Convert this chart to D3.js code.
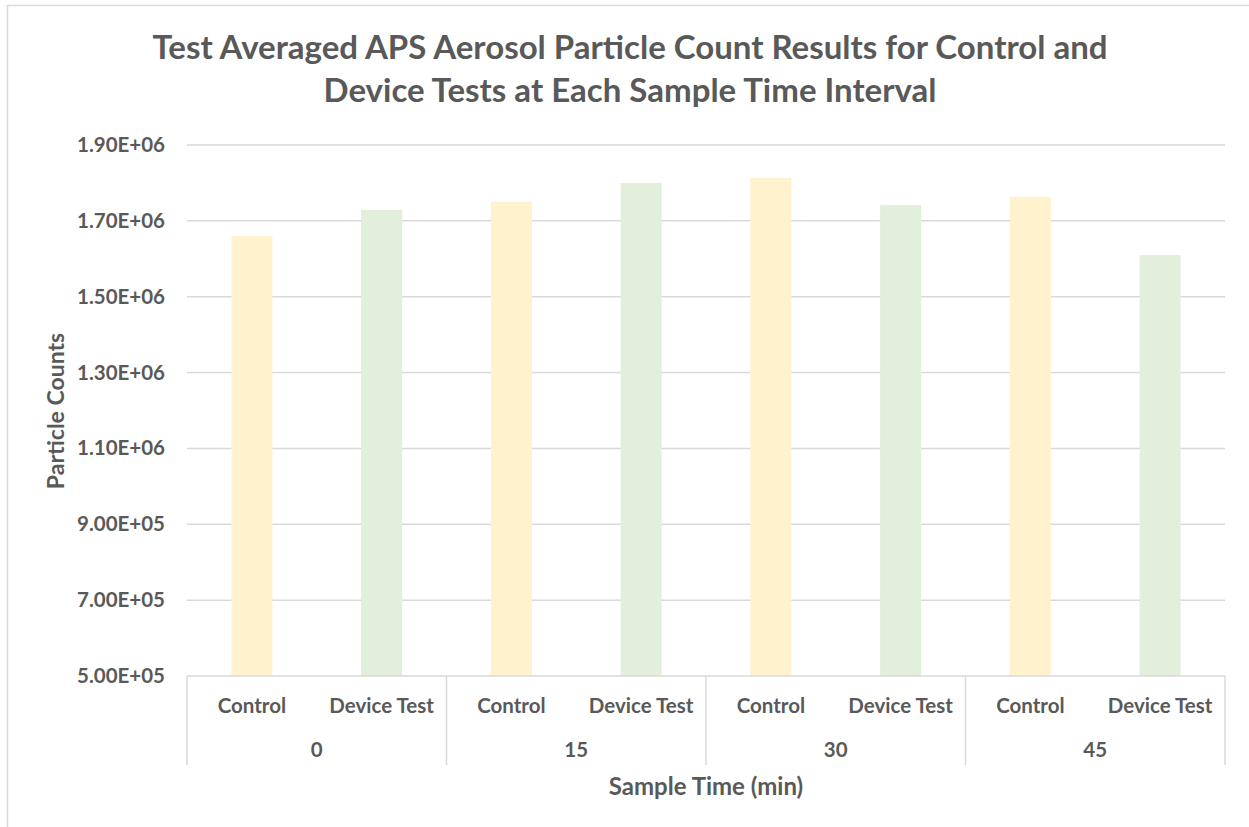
<!DOCTYPE html>
<html lang="en">
	<head>
		<meta charset="utf-8">
		<title>Test Averaged APS Aerosol Particle Count Results</title>
		<script src="https://d3js.org/d3.v7.min.js"></script>
		<style type="text/css">
			body {
				margin: 0;
				background: #fff;
			}
			text {
				font-family: Lato, "Open Sans", sans-serif;
				font-weight: bold;
				fill: #595959;
			}
		</style>
	</head>
	<body>
		<script type="text/javascript">
			//Data
			var times = ["0", "15", "30", "45"];
			var series = ["Control", "Device Test"];
			var controlValues = [1660000, 1750000, 1813000, 1763000];
			var deviceValues = [1729000, 1800000, 1742000, 1610000];
			var yTicks = [500000, 700000, 900000, 1100000, 1300000, 1500000, 1700000, 1900000];
			var seriesColors = ["#fff2cc", "#e2efda"];

			//Width and height
			var w = 1249;
			var h = 827;
			var plotLeft = 187, plotRight = 1225, plotTop = 145, plotBottom = 676;

			var svg = d3.select("body")
				.append("svg")
				.attr("width", w)
				.attr("height", h);

			//Chart border (runs off the right and bottom of the picture)
			svg.append("rect")
				.attr("x", 7.5)
				.attr("y", 5.5)
				.attr("width", 1300)
				.attr("height", 900)
				.attr("fill", "none")
				.attr("stroke", "#d9d9d9")
				.attr("stroke-width", 1.5);

			//Scales
			var x0 = d3.scaleBand()
				.domain(times)
				.range([plotLeft, plotRight]);

			var x1 = d3.scaleBand()
				.domain(series)
				.range([0, x0.bandwidth()])
				.paddingInner(0.684)
				.paddingOuter(0.342);

			var y = d3.scaleLinear()
				.domain([500000, 1900000])
				.range([plotBottom, plotTop]);

			//Format like 1.90E+06
			function sci(d) {
				var s = d3.format(".2e")(d).split("e");
				var exp = +s[1];
				var sign = exp < 0 ? "-" : "+";
				return s[0] + "E" + sign + String(Math.abs(exp)).padStart(2, "0");
			}

			//Gridlines
			svg.append("g")
				.selectAll("line")
				.data(yTicks.slice(1))
				.enter()
				.append("line")
				.attr("x1", plotLeft)
				.attr("x2", plotRight)
				.attr("y1", function(d) { return y(d); })
				.attr("y2", function(d) { return y(d); })
				.attr("stroke", "#d9d9d9")
				.attr("stroke-width", 1.5);

			//Y axis labels
			var yAxis = svg.append("g")
				.attr("transform", "translate(" + plotLeft + ",0)")
				.call(d3.axisLeft(y).tickValues(yTicks).tickFormat(sci).tickSize(0).tickPadding(22));
			yAxis.select(".domain").remove();
			yAxis.selectAll("text")
				.attr("fill", "#595959")
				.style("font-family", "Lato, sans-serif")
				.style("font-size", "20.5px");

			//Bars
			var rows = times.map(function(t, i) {
				return { time: t, values: [controlValues[i], deviceValues[i]] };
			});

			svg.append("g")
				.selectAll("g")
				.data(rows)
				.enter()
				.append("g")
				.attr("transform", function(d) { return "translate(" + x0(d.time) + ",0)"; })
				.selectAll("rect")
				.data(function(d) { return d.values.map(function(v, j) { return { s: series[j], v: v, j: j }; }); })
				.enter()
				.append("rect")
				.attr("x", function(d) { return x1(d.s); })
				.attr("width", x1.bandwidth())
				.attr("y", function(d) { return y(d.v); })
				.attr("height", function(d) { return y(500000) - y(d.v); })
				.attr("fill", function(d) { return seriesColors[d.j]; });

			//X axis line and group separators
			svg.append("line")
				.attr("x1", plotLeft)
				.attr("x2", plotRight)
				.attr("y1", plotBottom)
				.attr("y2", plotBottom)
				.attr("stroke", "#d9d9d9")
				.attr("stroke-width", 1.5);

			svg.append("g")
				.selectAll("line")
				.data(times.map(function(t) { return x0(t); }).concat([plotRight]))
				.enter()
				.append("line")
				.attr("x1", function(d) { return d; })
				.attr("x2", function(d) { return d; })
				.attr("y1", plotBottom)
				.attr("y2", 765)
				.attr("stroke", "#d9d9d9")
				.attr("stroke-width", 1.5);

			//Series labels under each bar
			times.forEach(function(t) {
				series.forEach(function(s) {
					svg.append("text")
						.attr("x", x0(t) + x1(s) + x1.bandwidth() / 2)
						.attr("y", 713)
						.attr("text-anchor", "middle")
						.style("font-size", "20.5px")
						.text(s);
				});
			});

			//Group labels
			svg.append("g")
				.selectAll("text")
				.data(times)
				.enter()
				.append("text")
				.attr("x", function(d) { return x0(d) + x0.bandwidth() / 2; })
				.attr("y", 757)
				.attr("text-anchor", "middle")
				.style("font-size", "20.5px")
				.text(function(d) { return d; });

			//Axis titles
			svg.append("text")
				.attr("x", (plotLeft + plotRight) / 2)
				.attr("y", 795)
				.attr("text-anchor", "middle")
				.style("font-size", "24px")
				.text("Sample Time (min)");

			svg.append("text")
				.attr("transform", "translate(64,411) rotate(-90)")
				.attr("text-anchor", "middle")
				.style("font-size", "23px")
				.text("Particle Counts");

			//Title
			var title = ["Test Averaged APS Aerosol Particle Count Results for Control and",
				"Device Tests at Each Sample Time Interval"];
			svg.append("g")
				.selectAll("text")
				.data(title)
				.enter()
				.append("text")
				.attr("x", 630)
				.attr("y", function(d, i) { return 59 + i * 43; })
				.attr("text-anchor", "middle")
				.style("font-size", "33px")
				.text(function(d) { return d; });
		</script>
	</body>
</html>
